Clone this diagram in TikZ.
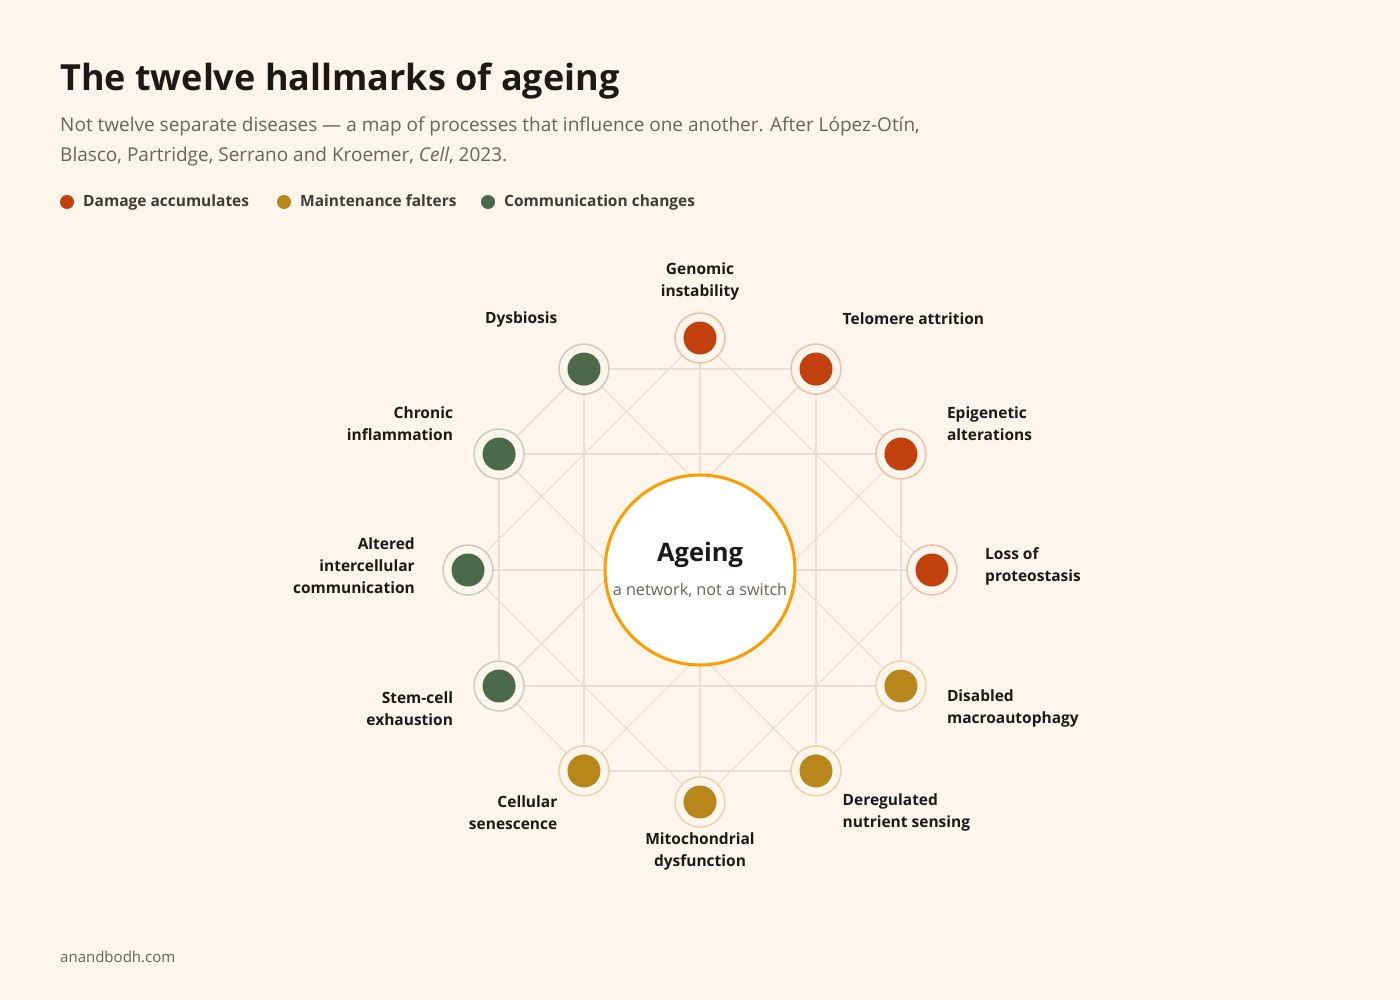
\documentclass[tikz,border=0pt]{standalone}
\usepackage{fontspec}
\setmainfont{Open Sans}
\usetikzlibrary{positioning}

\definecolor{bg}{HTML}{FEF5EC}
\definecolor{ink}{HTML}{1C1917}
\definecolor{muted}{HTML}{6B6259}
\definecolor{cred}{HTML}{C2410C}
\definecolor{cgold}{HTML}{B8861B}
\definecolor{cgreen}{HTML}{4A6A4A}
\definecolor{corange}{HTML}{FF9C00}
\definecolor{linkcol}{HTML}{E8DFD5}

\pgfdeclarelayer{back}
\pgfdeclarelayer{links}
\pgfsetlayers{back,links,main}

\tikzset{
  hallmark/.style={circle, minimum size=50pt, inner sep=0pt, line width=1.6pt, fill=bg},
  lbl/.style={inner sep=0pt, text=ink, font=\bfseries\fontsize{15.5}{22}\selectfont},
  legend/.style={inner sep=0pt, anchor=base west, text=ink!85, font=\bfseries\fontsize{15.5}{18}\selectfont},
  link/.style={draw=linkcol, line width=1.3pt},
}

\begin{document}
\begin{tikzpicture}[x=1pt, y=-1pt]
  \begin{pgfonlayer}{back}
    \fill[bg] (0,0) rectangle (1400,1000);
  \end{pgfonlayer}
  \useasboundingbox (0,0) rectangle (1400,1000);

  % heading
  \node[anchor=base west, inner sep=0pt, text=ink, font=\bfseries\fontsize{36}{40}\selectfont] (title) at (60,91) {The twelve hallmarks of ageing};
  \node[anchor=base west, inner sep=0pt, text=muted, font=\fontsize{19}{22}\selectfont] (sub1) at (60,132) {Not twelve separate diseases — a map of processes that influence one another. After López-Otín,};
  \node[anchor=base west, inner sep=0pt, text=muted, font=\fontsize{19}{22}\selectfont] (sub2) at (60,162) {Blasco, Partridge, Serrano and Kroemer, \emph{Cell}, 2023.};

  % legend
  \fill[cred] (67,202) circle (7);   \node[legend] (lgdamage) at (83,207) {Damage accumulates};
  \fill[cgold] (284,202) circle (7); \node[legend] (lgmaint) at (300,207) {Maintenance falters};
  \fill[cgreen] (488,202) circle (7); \node[legend] (lgcomm) at (504,207) {Communication changes};

  % centre
  \node[circle, minimum size=190pt, fill=white, draw=corange, line width=3pt] (ageing) at (700,570) {};
  \node[inner sep=0pt, text=ink, font=\bfseries\fontsize{25.5}{28}\selectfont] (agetitle) at (700,555) {Ageing};
  \node[inner sep=0pt, text=muted, font=\fontsize{16.2}{18}\selectfont] (agesub) at (700,590) {a network, not a switch};

  % hallmarks
  \foreach \k/\col in {0/cred,1/cred,2/cred,3/cred,4/cgold,5/cgold,6/cgold,7/cgold,8/cgreen,9/cgreen,10/cgreen,11/cgreen} {
    \node[hallmark, draw=\col!28!bg] (n\k) at ({700+232*cos(90-30*\k)},{570-232*sin(90-30*\k)}) {};
    \fill[\col] (n\k.center) circle (16.5);
  }

  % labels
  \foreach \k/\anc/\al/\txt in {
      0/center/center/{Genomic\\instability},
      1/west/left/{Telomere attrition},
      2/west/left/{Epigenetic\\alterations},
      3/west/left/{Loss of\\proteostasis},
      4/west/left/{Disabled\\macroautophagy},
      5/west/left/{Deregulated\\nutrient sensing},
      6/center/center/{Mitochondrial\\dysfunction},
      7/east/right/{Cellular\\senescence},
      8/east/right/{Stem-cell\\exhaustion},
      9/east/right/{Altered\\intercellular\\communication},
      10/east/right/{Chronic\\inflammation},
      11/east/right/{Dysbiosis}} {
    \node[lbl, anchor=\anc, align=\al] (l\k) at ({700+285*cos(90-30*\k)},{566-285*sin(90-30*\k)}) {\txt};
  }

  % links between hallmarks
  \begin{pgfonlayer}{links}
    \foreach \a/\b in {1/2,4/5,7/8,10/11, 11/1,2/4,5/7,8/10, 0/3,3/6,6/9,9/0,
                       11/7,10/2,1/5,4/8, 11/4,10/5,1/8,2/7, 0/6,3/9}
      \draw[link] (n\a.center) -- (n\b.center);
  \end{pgfonlayer}

  \node[anchor=base west, inner sep=0pt, text=muted, font=\fontsize{15}{16}\selectfont] (site) at (60,962) {anandbodh.com};
\end{tikzpicture}
\end{document}
